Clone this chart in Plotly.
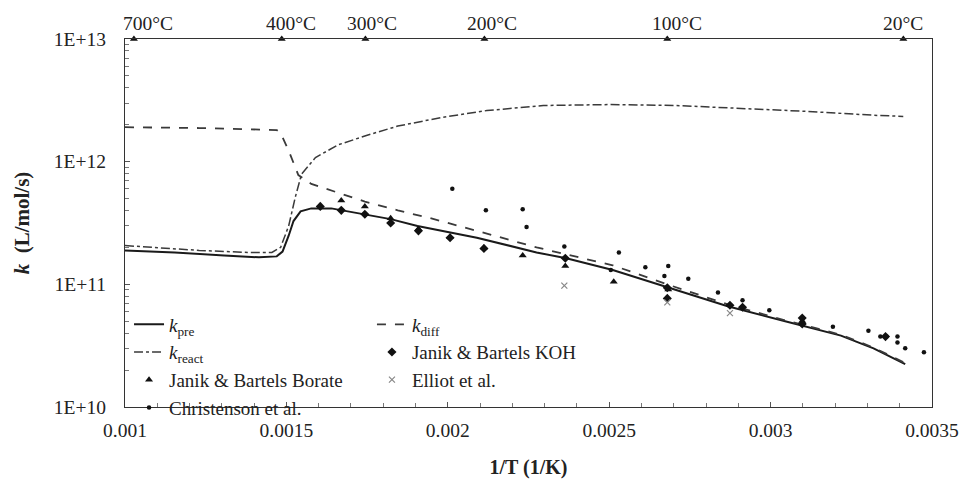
import plotly.graph_objects as go

# ---- model curves ----
x_pre = [0.001000, 0.001154, 0.001307, 0.001415, 0.001470, 0.001488, 0.001507, 0.001522,
         0.001544, 0.001577, 0.001639, 0.001743, 0.001823, 0.001906, 0.002007, 0.002090,
         0.002275, 0.002367, 0.002511, 0.002683, 0.002867, 0.003042, 0.003218, 0.003279,
         0.003319, 0.003417]
k_pre = [1.89e11, 1.82e11, 1.72e11, 1.66e11, 1.69e11, 1.85e11, 2.49e11, 3.28e11,
         3.94e11, 4.16e11, 4.16e11, 3.73e11, 3.40e11, 2.99e11, 2.63e11, 2.40e11,
         1.82e11, 1.63e11, 1.31e11, 9.39e10, 6.63e10, 5.03e10, 3.82e10, 3.30e10,
         3.01e10, 2.24e10]

x_diff = [0.001000, 0.001230, 0.001470, 0.001482, 0.001507, 0.001537, 0.001577, 0.001670,
          0.001743, 0.001845, 0.001946, 0.002090, 0.002275, 0.002511, 0.002683, 0.002867,
          0.003042, 0.003218, 0.003319, 0.003417]
k_diff = [1.91e12, 1.88e12, 1.81e12, 1.71e12, 1.23e12, 7.78e11, 6.59e11, 5.48e11,
          4.73e11, 4.01e11, 3.46e11, 2.73e11, 2.00e11, 1.43e11, 9.93e10, 6.87e10,
          5.12e10, 3.88e10, 3.05e10, 2.28e10]

x_react = [0.001000, 0.001230, 0.001384, 0.001455, 0.001482, 0.001507, 0.001528, 0.001547,
           0.001590, 0.001660, 0.001743, 0.001845, 0.001983, 0.002121, 0.002296, 0.002499,
           0.002705, 0.002910, 0.003113, 0.003319, 0.003411]
k_react = [2.07e11, 1.89e11, 1.82e11, 1.82e11, 2.00e11, 2.99e11, 5.19e11, 7.92e11,
           1.08e12, 1.37e12, 1.62e12, 1.95e12, 2.30e12, 2.61e12, 2.87e12, 2.92e12,
           2.87e12, 2.71e12, 2.57e12, 2.39e12, 2.34e12]

# ---- experimental data ----
x_borate = [0.001670, 0.001743, 0.001823, 0.001909, 0.002007, 0.002112, 0.002232, 0.002364,
            0.002514, 0.002683, 0.003098]
k_borate = [4.82e11, 4.32e11, 3.46e11, 2.83e11, 2.44e11, 2.00e11, 1.72e11, 1.41e11,
            1.05e11, 9.06e10, 5.03e10]

x_koh = [0.001605, 0.001670, 0.001743, 0.001823, 0.001909, 0.002007, 0.002112, 0.002364,
         0.002680, 0.002680, 0.002874, 0.002913, 0.003098, 0.003098, 0.003356]
k_koh = [4.32e11, 4.01e11, 3.73e11, 3.16e11, 2.73e11, 2.40e11, 1.96e11, 1.63e11,
         9.39e10, 7.68e10, 6.75e10, 6.50e10, 5.31e10, 4.76e10, 3.75e10]

x_chris = [0.002014, 0.002118, 0.002232, 0.002244, 0.002361, 0.002505, 0.002530, 0.002612,
           0.002683, 0.002671, 0.002745, 0.002837, 0.002913, 0.002996, 0.003193, 0.003303,
           0.003340, 0.003359, 0.003393, 0.003393, 0.003417, 0.003475]
k_chris = [6.01e11, 4.01e11, 4.09e11, 2.94e11, 2.03e11, 1.31e11, 1.82e11, 1.38e11,
           1.41e11, 1.17e11, 1.11e11, 8.57e10, 7.40e10, 6.16e10, 4.50e10, 4.19e10,
           3.75e10, 3.75e10, 3.75e10, 3.36e10, 3.01e10, 2.79e10]

x_elliot = [0.002361, 0.002680, 0.002874]
k_elliot = [9.75e10, 7.13e10, 5.82e10]

# ---- axes ----
temps_C = [700, 400, 300, 200, 100, 20]
top_labels = [f"{t}°C" for t in temps_C]
x_top = [1.0 / (t + 273.15) for t in temps_C]
top_label_shift = [14, 9, 7, 8, 10, 0]   # style: horizontal nudge of the top labels (px)
y_tickvals = [1e10, 1e11, 1e12, 1e13]
y_ticktext = ["1E+10", "1E+11", "1E+12", "1E+13"]
y_minor = [m * d for d in (1e10, 1e11, 1e12) for m in range(2, 10)]

FONT = "Liberation Serif, Times New Roman, DejaVu Serif, serif"
TXT = "#222"
TICK = 19.5
fig = go.Figure()

fig.add_trace(go.Scatter(x=x_pre, y=k_pre, mode="lines", name="<i>k</i><sub>pre</sub>",
                         line=dict(color="#1a1a1a", width=2), legend="legend", legendrank=1))
fig.add_trace(go.Scatter(x=x_react, y=k_react, mode="lines", name="<i>k</i><sub>react</sub>",
                         line=dict(color="#3a3a3a", width=1.5, dash="dashdot"), legend="legend", legendrank=2))
fig.add_trace(go.Scatter(x=x_diff, y=k_diff, mode="lines", name="<i>k</i><sub>diff</sub>",
                         line=dict(color="#3a3a3a", width=1.8, dash="dash"), legend="legend2", legendrank=1))
fig.add_trace(go.Scatter(x=x_borate, y=k_borate, mode="markers", name="Janik & Bartels Borate",
                         marker=dict(symbol="triangle-up", size=7, color="#111"), legend="legend", legendrank=3))
fig.add_trace(go.Scatter(x=x_chris, y=k_chris, mode="markers", name="Christenson et al.",
                         marker=dict(symbol="circle", size=4.5, color="#111"), legend="legend", legendrank=4))
fig.add_trace(go.Scatter(x=x_koh, y=k_koh, mode="markers", name="Janik & Bartels KOH",
                         marker=dict(symbol="diamond", size=7, color="#111"), legend="legend2", legendrank=2))
fig.add_trace(go.Scatter(x=x_elliot, y=k_elliot, mode="markers", name="Elliot et al.",
                         marker=dict(symbol="x-thin-open", size=6, color="#888", line=dict(width=1.2, color="#888")),
                         legend="legend2", legendrank=3))
# temperature markers on the top axis
fig.add_trace(go.Scatter(x=x_top, y=[y_tickvals[-1]] * len(x_top), mode="markers",
                         marker=dict(symbol="triangle-up", size=7, color="#111"),
                         showlegend=False, cliponaxis=False, hoverinfo="skip"))

for xv, lab, sh in zip(x_top, top_labels, top_label_shift):
    fig.add_annotation(x=xv, y=1, xref="x", yref="paper", text=lab, showarrow=False,
                       xanchor="center", yanchor="bottom", xshift=sh, yshift=3,
                       font=dict(family=FONT, size=TICK, color=TXT))

axis_common = dict(showgrid=False, zeroline=False, linecolor="#333", linewidth=1.3,
                   tickcolor="#555", tickfont=dict(family=FONT, size=TICK, color=TXT))

fig.update_layout(
    width=971, height=487,
    margin=dict(l=125, r=32, t=39, b=72),
    paper_bgcolor="white", plot_bgcolor="white",
    font=dict(family=FONT, size=18, color=TXT),
    xaxis=dict(range=[0.001, 0.0035], dtick=0.0005, tick0=0.001, showline=True, mirror=True,
               ticks="inside", ticklen=5, ticklabelstandoff=5,
               minor=dict(dtick=0.0001, ticks="inside", ticklen=4, tickcolor="#777"),
               title=dict(text="<b>1/T (1/K)</b>", font=dict(family=FONT, size=20, color=TXT), standoff=20),
               **axis_common),
    yaxis=dict(type="log", range=[10, 13], tickvals=y_tickvals, ticktext=y_ticktext,
               showline=True, mirror=True, ticks="inside", ticklen=5, ticklabelstandoff=14,
               minor=dict(tickmode="array", tickvals=y_minor, ticks="inside", ticklen=4, tickcolor="#777"),
               title=dict(text="<b><i>k</i>  (L/mol/s)</b>", font=dict(family=FONT, size=21, color=TXT), standoff=18),
               **axis_common),
    legend=dict(x=0.005, y=0.276, xanchor="left", yanchor="top", bgcolor="rgba(0,0,0,0)",
                font=dict(family=FONT, size=19, color=TXT), tracegroupgap=0, traceorder="normal"),
    legend2=dict(x=0.306, y=0.276, xanchor="left", yanchor="top", bgcolor="rgba(0,0,0,0)",
                 font=dict(family=FONT, size=19, color=TXT), tracegroupgap=0, traceorder="normal"),
    showlegend=True,
)

fig.write_html("out.html")
